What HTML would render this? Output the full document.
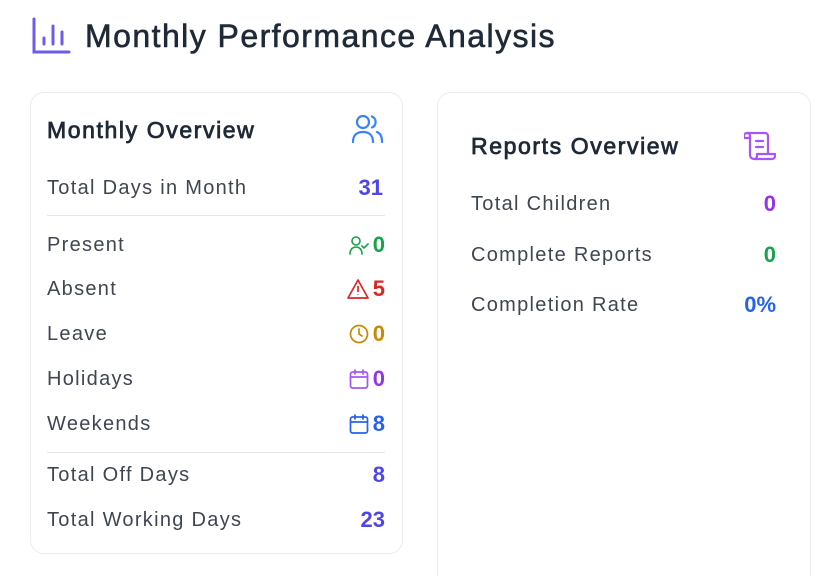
<!DOCTYPE html>
<html><head><meta charset="utf-8"><style>
*{margin:0;padding:0;box-sizing:border-box}
html,body{width:838px;height:576px;overflow:hidden}
body{background:#fff;font-family:"Liberation Sans",sans-serif;position:relative;color:#374151}
.a{position:absolute;white-space:nowrap}
.card{position:absolute;border:1px solid #ececec;border-radius:14px;background:#fff}
.lab{font-size:20px;color:#3f4652;line-height:24px;letter-spacing:1.3px}
.val{font-size:22px;font-weight:bold;line-height:24px;text-align:right;display:flex;align-items:center;gap:4px;justify-content:flex-end}
.hr{position:absolute;height:1px;background:#e5e7eb}
h2{font-weight:normal;font-size:23px;color:#1f2937;letter-spacing:1.6px;-webkit-text-stroke:0.8px #1f2937}
</style></head><body>
<svg class="a" style="left:32px;top:17px" width="40" height="38" viewBox="0 0 40 38" fill="none" stroke="#6d5ce8" stroke-width="3" stroke-linecap="round"><path d="M2 2V35H37"/><path d="M12 27V21M21 27V9M30 27V15"/></svg>
<div class="a" style="left:85px;top:17px;font-size:32px;color:#1f2937;letter-spacing:1.45px;line-height:38px;-webkit-text-stroke:0.6px #1f2937">Monthly Performance Analysis</div>

<div class="card" style="left:30px;top:92px;width:373px;height:462px"></div>
<div class="card" style="left:437px;top:92px;width:374px;height:500px"></div>

<h2 class="a" style="left:47px;top:116px;line-height:28px">Monthly Overview</h2>
<svg class="a" style="left:352px;top:114px" width="32" height="30" viewBox="0 0 32 30" fill="none" stroke="#3b82f6" stroke-width="2.2" stroke-linecap="round"><circle cx="11" cy="8" r="6"/><path d="M1 28c0-7 4-10 10-10s10 3 10 10"/><path d="M20 2.5a6 6 0 0 1 0 11"/><path d="M25 18c4 2 5 5 5 10"/></svg>

<div class="a lab" style="left:47px;top:176px">Total Days in Month</div>
<div class="a val" style="right:455px;top:176px;color:#4f46e5">31</div>
<div class="hr" style="left:47px;top:215px;width:338px"></div>

<div class="a lab" style="left:47px;top:233px">Present</div>
<div class="a val" style="right:453px;top:233px;color:#16a34a"><svg width="20" height="20" viewBox="0 0 20 20" fill="none" stroke="#16a34a" stroke-width="1.6" stroke-linecap="round"><circle cx="7" cy="6" r="4"/><path d="M1 19c0-5 3-7 6-7s6 2 6 7"/><path d="M13 11l2 2 4-4"/></svg>0</div>

<div class="a lab" style="left:47px;top:277px">Absent</div>
<div class="a val" style="right:453px;top:277px;color:#dc2626"><svg width="22" height="20" viewBox="0 0 22 20" fill="none" stroke="#dc2626" stroke-width="1.7" stroke-linejoin="round"><path d="M11 1L21 19H1Z"/><path d="M11 7v6M11 15.5v.5"/></svg>5</div>

<div class="a lab" style="left:47px;top:322px">Leave</div>
<div class="a val" style="right:453px;top:322px;color:#ca8a04"><svg width="20" height="20" viewBox="0 0 20 20" fill="none" stroke="#ca8a04" stroke-width="1.7" stroke-linecap="round"><circle cx="10" cy="10" r="8.5"/><path d="M10 5v5l3 2"/></svg>0</div>

<div class="a lab" style="left:47px;top:367px">Holidays</div>
<div class="a val" style="right:453px;top:367px;color:#9333ea"><svg width="20" height="20" viewBox="0 0 20 20" fill="none" stroke="#a855f7" stroke-width="1.7" stroke-linecap="round"><rect x="1.5" y="3" width="17" height="16" rx="2"/><path d="M1.5 8h17M6 1v4M14 1v4"/></svg>0</div>

<div class="a lab" style="left:47px;top:412px">Weekends</div>
<div class="a val" style="right:453px;top:412px;color:#2563eb"><svg width="20" height="20" viewBox="0 0 20 20" fill="none" stroke="#2563eb" stroke-width="1.7" stroke-linecap="round"><rect x="1.5" y="3" width="17" height="16" rx="2"/><path d="M1.5 8h17M6 1v4M14 1v4"/></svg>8</div>
<div class="hr" style="left:47px;top:452px;width:338px"></div>

<div class="a lab" style="left:47px;top:463px">Total Off Days</div>
<div class="a val" style="right:453px;top:463px;color:#4f46e5">8</div>
<div class="a lab" style="left:47px;top:508px">Total Working Days</div>
<div class="a val" style="right:453px;top:508px;color:#4f46e5">23</div>

<h2 class="a" style="left:471px;top:132px;line-height:28px">Reports Overview</h2>
<svg class="a" style="left:744px;top:131px" width="32" height="30" viewBox="0 0 32 30" fill="none" stroke="#a855f7" stroke-width="2.2" stroke-linecap="round" stroke-linejoin="round"><path d="M3 2h18a3 3 0 0 1 3 3v17"/><path d="M3 2a3 3 0 0 0-3 3v2h6V5a3 3 0 0 0-3-3"/><path d="M6 5v19a4 4 0 0 0 4 4h18a3 3 0 0 0 3-3v-2H13v2a3 3 0 0 1-3 3"/><path d="M12 10h7M12 16h7"/></svg>

<div class="a lab" style="left:471px;top:192px">Total Children</div>
<div class="a val" style="right:62px;top:192px;color:#9333ea">0</div>
<div class="a lab" style="left:471px;top:243px">Complete Reports</div>
<div class="a val" style="right:62px;top:243px;color:#16a34a">0</div>
<div class="a lab" style="left:471px;top:293px">Completion Rate</div>
<div class="a val" style="right:62px;top:293px;color:#2563eb">0%</div>
</body></html>
